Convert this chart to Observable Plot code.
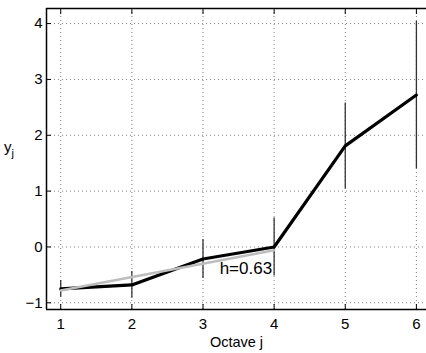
<!DOCTYPE html>
<html>
<head>
<meta charset="utf-8">
<script src="https://cdn.jsdelivr.net/npm/d3@7"></script>
<script src="https://cdn.jsdelivr.net/npm/@observablehq/plot@0.6"></script>
<style>
  html, body { margin: 0; padding: 0; background: #fff; }
  #chart { width: 426px; height: 353px; }
</style>
</head>
<body>
<div id="chart"></div>
<script>
// Log-scale diagram: per-octave estimates y_j with confidence intervals
const octaves = [1, 2, 3, 4, 5, 6];
const yValues = [-0.75, -0.68, -0.215, 0.0, 1.81, 2.72];
const halfWidths = [0.15, 0.24, 0.35, 0.52, 0.77, 1.32];

// regression line over the octave range [1, 4]
const fitOctaves = [1, 4];
const fitValues = [-0.78, -0.06];
const hurst = 0.63;

const xTicks = [1, 2, 3, 4, 5, 6];
const yTicks = [-1, 0, 1, 2, 3, 4];
const xDomain = [0.8, 6.142];
const yDomain = [-1.12, 4.27];

const points = octaves.map((j, i) => ({j, y: yValues[i], e: halfWidths[i]}));
const fit = fitOctaves.map((j, i) => ({j, y: fitValues[i]}));

const font = "'Liberation Sans', Arial, Helvetica, sans-serif";

const plot = Plot.plot({
  width: 426,
  height: 353,
  marginLeft: 46,
  marginRight: 0,
  marginTop: 8,
  marginBottom: 44,
  style: {fontFamily: font, fontSize: "15px", color: "#000", background: "#fff"},
  x: {domain: xDomain, label: null},
  y: {domain: yDomain, label: null},
  marks: [
    Plot.gridX(xTicks, {stroke: "#000", strokeOpacity: 0.5, strokeDasharray: "1,3"}),
    Plot.gridY(yTicks, {stroke: "#000", strokeOpacity: 0.5, strokeDasharray: "1,3"}),
    // inward tick marks on the box
    Plot.axisX({ticks: xTicks, anchor: "bottom", tickSize: -5, text: null, label: null, strokeWidth: 1}),
    Plot.axisX({ticks: xTicks, anchor: "top", tickSize: -5, text: null, label: null, strokeWidth: 1}),
    Plot.axisY({ticks: yTicks, anchor: "left", tickSize: -5, text: null, label: null, strokeWidth: 1}),
    // tick labels
    Plot.axisX({ticks: xTicks, anchor: "bottom", tickSize: 0, tickPadding: 9, fontSize: 15, label: null, tickFormat: d3.format("d")}),
    Plot.axisY({ticks: yTicks, anchor: "left", tickSize: 0, tickPadding: 4, fontSize: 15, label: null, tickFormat: d => d < 0 ? "\u2212" + Math.abs(d) : String(d)}),
    // box edges
    Plot.ruleY([yDomain[0]], {stroke: "#000", strokeWidth: 1.5}),
    Plot.ruleY([yDomain[1]], {stroke: "#000", strokeWidth: 1.5}),
    Plot.ruleX([xDomain[0]], {stroke: "#000", strokeWidth: 1.5}),
    // confidence intervals
    Plot.ruleX(points, {x: "j", y1: d => d.y - d.e, y2: d => d.y + d.e, stroke: "#333", strokeWidth: 1.3}),
    // estimates
    Plot.line(points, {x: "j", y: "y", stroke: "#000", strokeWidth: 3.2}),
    // fitted line
    Plot.line(fit, {x: "j", y: "y", stroke: "#bdbdbd", strokeWidth: 2.5}),
    Plot.text([`h=${hurst.toFixed(2)}`], {x: fitOctaves[1], y: -0.39, text: d => d, textAnchor: "end", dx: -2, fontSize: 17, fill: "#000"}),
    Plot.text(["Octave j"], {frameAnchor: "bottom", lineAnchor: "middle", dy: 33, fontSize: 14.5, fill: "#000"})
  ]
});

// y-axis label with subscript
const svg = d3.select(plot);
const ylab = svg.append("text")
  .attr("x", 9)
  .attr("y", 152)
  .attr("font-family", font)
  .attr("font-size", 15)
  .attr("fill", "#000");
ylab.append("tspan").text("y");
ylab.append("tspan").attr("font-size", 11).attr("dy", 5).text("j");

document.getElementById("chart").appendChild(plot);
</script>
</body>
</html>
